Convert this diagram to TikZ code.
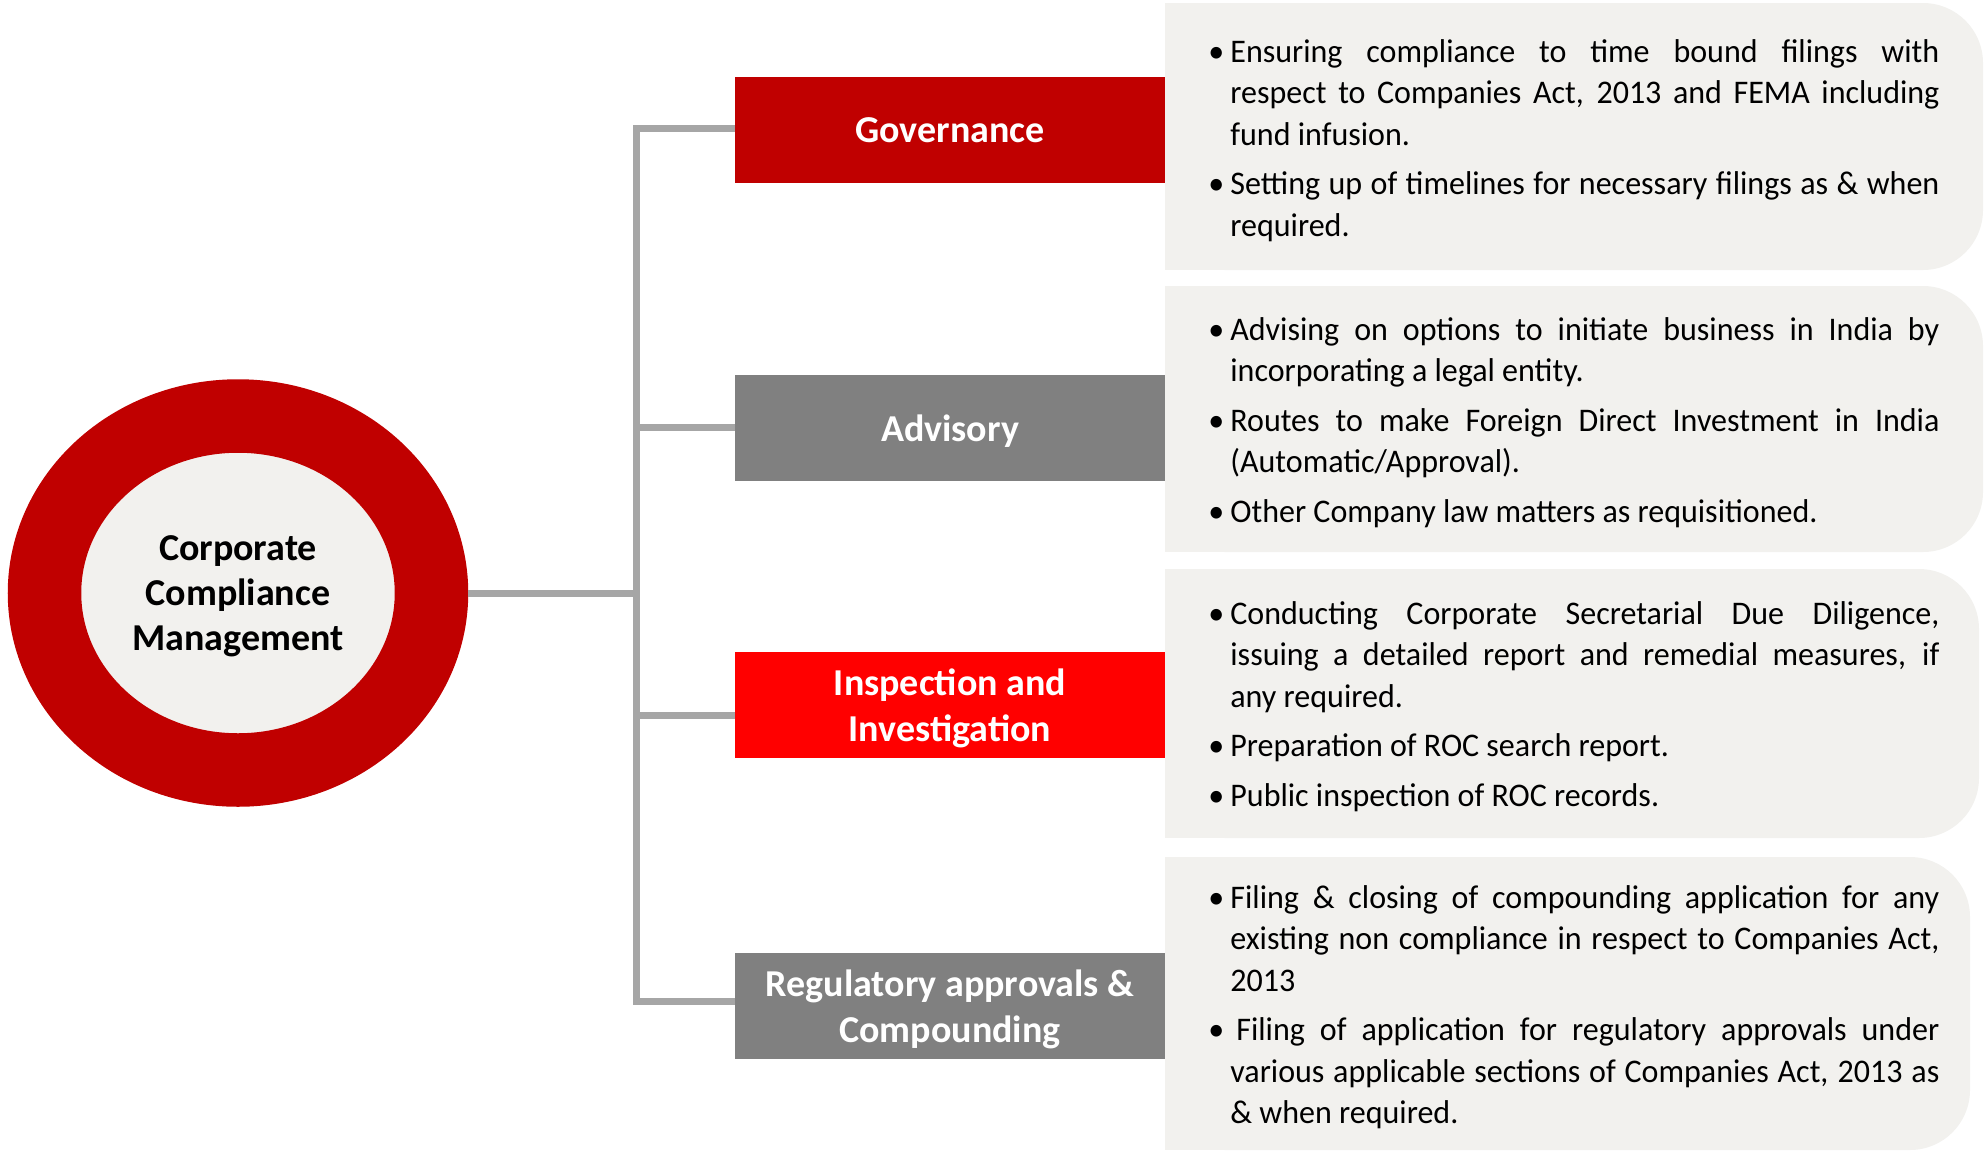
\documentclass[tikz,border=0pt]{standalone}
\usepackage{fontspec}
\setmainfont{Carlito}
\newfontfamily\panelfont[FakeStretch=0.97]{Carlito}
\usetikzlibrary{shapes.geometric}
\definecolor{ccmred}{HTML}{C00000}
\definecolor{insred}{HTML}{FF0000}
\definecolor{boxgrey}{HTML}{808080}
\definecolor{linkgrey}{HTML}{A6A6A6}
\definecolor{panelbg}{HTML}{F2F1EE}
\tikzset{
  topic/.style={rectangle, fill=#1, text=white, align=center, text depth=0pt,
    font=\bfseries\fontsize{19}{23}\selectfont,
    minimum width=215pt, minimum height=53pt, inner sep=0pt},
  link/.style={draw=linkgrey, line width=3.5pt},
  points/.style={anchor=west, text width=363pt, align=justify, inner sep=0pt,
    font=\panelfont\fontsize{16.5}{20.75}\selectfont,
    execute at begin node={\setlength{\parskip}{4pt}\hyphenpenalty=10000\exhyphenpenalty=10000}},
}
\newcommand{\pitem}[1]{\par\noindent\hangindent=8.5pt\hangafter=1%
  \makebox[8.5pt][l]{\hspace{-2.5pt}\textbullet}#1\par}
\begin{document}
\begin{tikzpicture}[x=0.5pt, y=-0.5pt]
    \useasboundingbox (0,0) rectangle (1987,1152);

    % grey panels, rounded on the right only
    \foreach \ya/\yb/\xr in {3/270/1983, 286/552/1983, 569/838/1979, 857/1150/1970}{
        \fill[panelbg, rounded corners=30pt] (1165,\ya) rectangle (\xr,\yb);
        \fill[panelbg] (1165,\ya) rectangle (1300,\yb);
    }

    \node[ellipse, draw=ccmred, line width=36.75pt, fill=panelbg,
          minimum width=193.5pt, minimum height=177pt, inner sep=0pt, align=center,
          text depth=0pt, font=\bfseries\fontsize{19}{22.5}\selectfont] (ccm) at (238,593)
          {Corporate\\Compliance\\Management};

    \coordinate (jgov) at (636,128);
    \coordinate (jadv) at (636,427);
    \coordinate (jccm) at (636,593);
    \coordinate (jins) at (636,715);
    \coordinate (jreg) at (636,1001);

    \node[topic=ccmred]  (gov) at (950,130)  {Governance};
    \node[topic=boxgrey] (adv) at (950,428)  {Advisory};
    \node[topic=insred]  (ins) at (950,705)  {Inspection and\\Investigation};
    \node[topic=boxgrey] (reg) at (950,1006) {Regulatory approvals \&\\Compounding};

    \draw[link] (gov.west |- jgov) -- (jgov) -- (jreg) -- (reg.west |- jreg);
    \draw[link] (ccm.east) -- (jccm);
    \draw[link] (jadv) -- (adv.west |- jadv);
    \draw[link] (jins) -- (ins.west |- jins);

    \node[points] (gtxt) at (1213,127) {%
        \pitem{Ensuring compliance to time bound filings with\linebreak respect to Companies Act, 2013 and FEMA including fund infusion.}
        \pitem{Setting up of timelines for necessary filings as \& when required.}};
    \node[points] (atxt) at (1213,409) {%
        \pitem{Advising on options to initiate business in India by incorporating a legal entity.}
        \pitem{Routes to make Foreign Direct Investment in India (Automatic/Approval).}
        \pitem{Other Company law matters as requisitioned.}};
    \node[points] (itxt) at (1213,693) {%
        \pitem{Conducting Corporate Secretarial Due Diligence, issuing a detailed report and remedial measures, if\linebreak any required.}
        \pitem{Preparation of ROC search report.}
        \pitem{Public inspection of ROC records.}};
    \node[points] (rtxt) at (1213,994) {%
        \pitem{Filing \& closing of compounding application for any existing non compliance in respect to Companies Act, 2013}
        \pitem{\hspace{3pt}Filing of application for regulatory approvals under various applicable sections of Companies Act, 2013 as \& when required.}};
\end{tikzpicture}
\end{document}
